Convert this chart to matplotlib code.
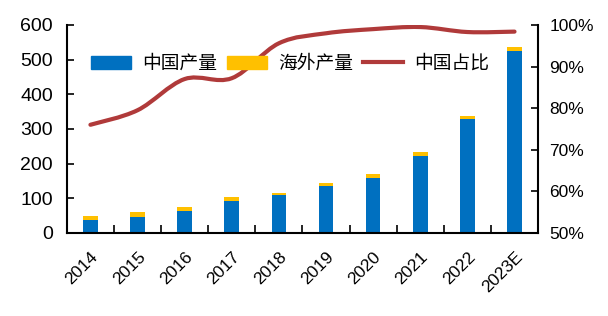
import matplotlib
matplotlib.use("Agg")
import matplotlib.pyplot as plt
from matplotlib.path import Path
from matplotlib.patches import PathPatch
from matplotlib.lines import Line2D
from matplotlib.patches import Patch
from matplotlib.ticker import FuncFormatter, MultipleLocator

plt.rcParams['font.family'] = ['Liberation Sans', 'Noto Sans CJK SC', 'DejaVu Sans']

years = ['2014', '2015', '2016', '2017', '2018', '2019', '2020', '2021', '2022', '2023E']
china = [37.5, 45, 63, 92, 110, 136, 158, 222, 329, 525]
overseas = [11.5, 15, 13, 13, 6, 9, 11, 10, 8, 11]
share = [76.0, 79.5, 87.0, 87.2, 95.6, 98.0, 99.0, 99.5, 98.3, 98.4]

blue = '#0070C0'
yellow = '#FFC000'
red = '#B03A3A'

fig = plt.figure(figsize=(6.08, 3.16), dpi=100)
ax = fig.add_axes([0.110, 0.263, 0.775, 0.658])
ax2 = ax.twinx()

x = list(range(len(years)))
ax.bar(x, china, width=0.31, color=blue, zorder=2)
ax.bar(x, overseas, width=0.31, bottom=china, color=yellow, zorder=2)

# smooth line through the points (Catmull-Rom -> cubic bezier)
verts = [(x[0], share[0])]
codes = [Path.MOVETO]
n = len(x)
for i in range(n - 1):
    p0 = (x[i - 1], share[i - 1]) if i > 0 else (x[i], share[i])
    p1 = (x[i], share[i])
    p2 = (x[i + 1], share[i + 1])
    p3 = (x[i + 2], share[i + 2]) if i + 2 < n else p2
    c1 = (p1[0] + (p2[0] - p0[0]) / 6, p1[1] + (p2[1] - p0[1]) / 6)
    c2 = (p2[0] - (p3[0] - p1[0]) / 6, p2[1] - (p3[1] - p1[1]) / 6)
    verts += [c1, c2, p2]
    codes += [Path.CURVE4] * 3
ax2.add_patch(PathPatch(Path(verts, codes), fill=False, edgecolor=red,
                        lw=3, capstyle='round', zorder=3))

ax.set_xlim(-0.5, len(years) - 0.5)
ax.set_ylim(0, 600)
ax2.set_ylim(50, 100)
ax.yaxis.set_major_locator(MultipleLocator(100))
ax2.yaxis.set_major_locator(MultipleLocator(10))
ax2.yaxis.set_major_formatter(FuncFormatter(lambda v, p: f'{v:.0f}%'))

ax.set_xticks(x)
ax.set_xticklabels(years, rotation=45, ha='right', rotation_mode='anchor', fontsize=12.5)
ax.tick_params(axis='x', length=0, pad=12)
ax.set_xticks([i + 0.5 for i in x[:-1]], minor=True)
ax.tick_params(axis='x', which='minor', direction='in', length=6, width=1.2)
ax.tick_params(axis='y', direction='in', length=5, width=1.2, labelsize=14, pad=10)
ax2.tick_params(axis='y', direction='in', length=5, width=1.2, labelsize=12.5, pad=8)

for a in (ax, ax2):
    a.spines['top'].set_visible(False)
    for s in ('left', 'right', 'bottom'):
        a.spines[s].set_linewidth(1.5)
ax.spines['right'].set_visible(False)
ax2.spines['left'].set_visible(False)
ax2.spines['bottom'].set_visible(False)

handles = [Patch(color=blue), Patch(color=yellow), Line2D([0], [0], color=red, lw=3)]
labels = ['中国产量', '海外产量', '中国占比']
fig.legend(handles, labels, loc='center left', bbox_to_anchor=(0.138, 0.80),
           ncol=3, frameon=False, handlelength=2.1, handleheight=0.7,
           handletextpad=0.6, columnspacing=0.55, borderaxespad=0,
           prop={'family': ['Noto Sans CJK SC', 'DejaVu Sans'], 'size': 13.5})

fig.savefig('out.png', dpi=100)
